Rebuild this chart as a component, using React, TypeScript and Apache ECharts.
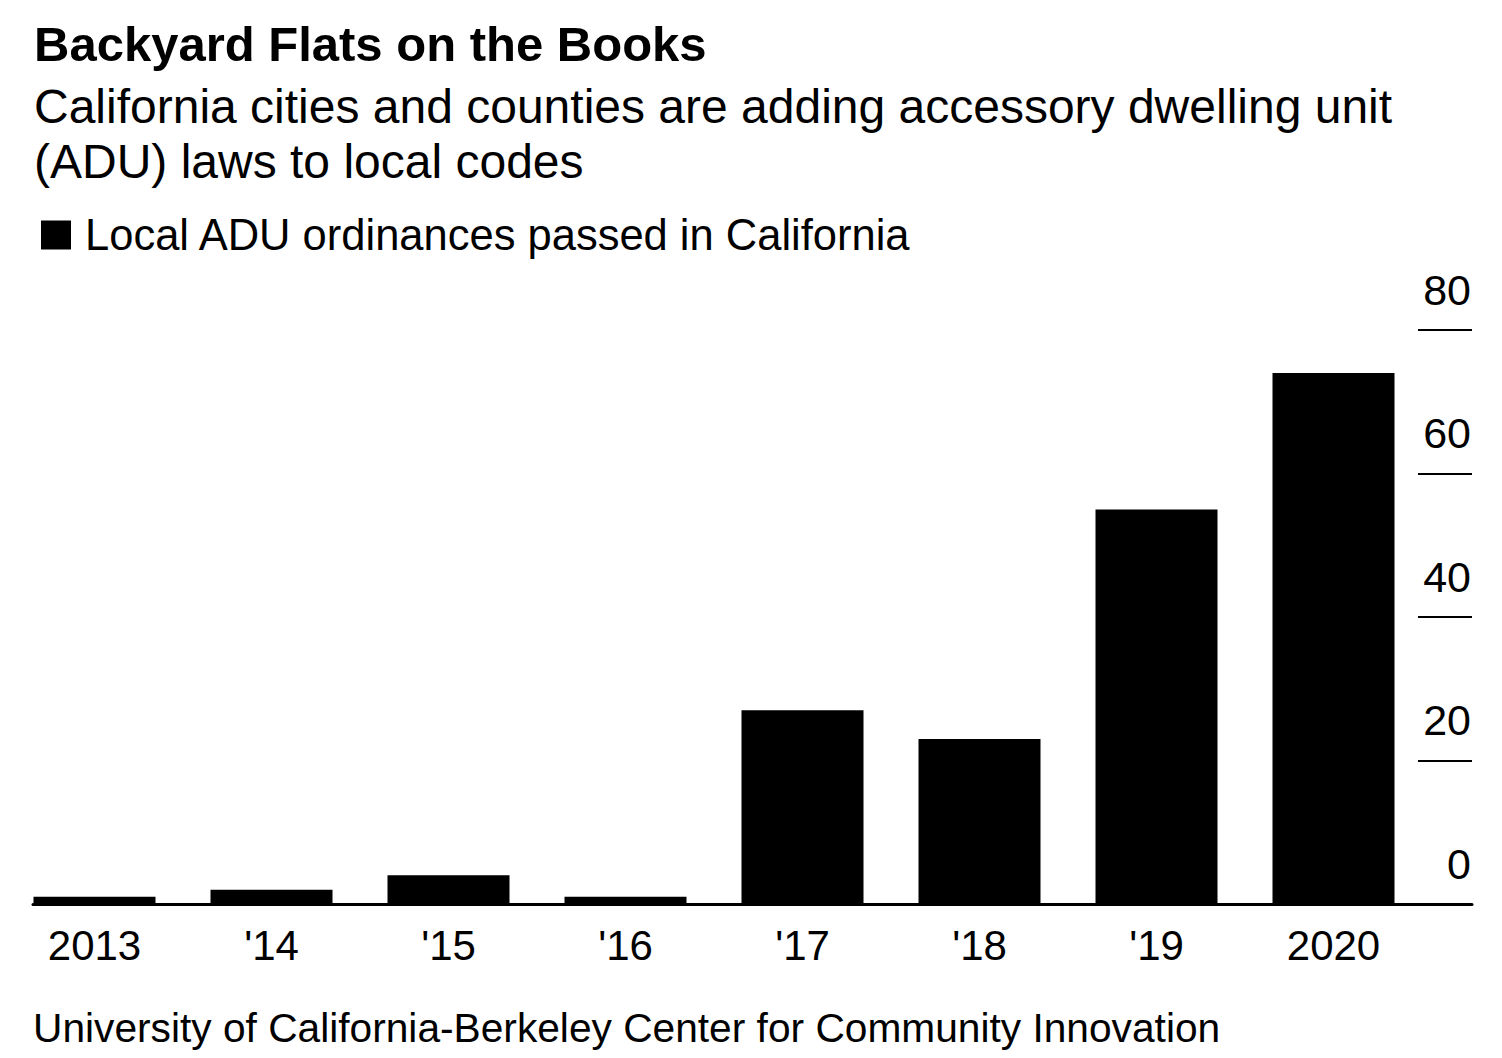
import React, { useEffect, useRef } from "react";
import * as echarts from "echarts";

const categories = ["2013", "'14", "'15", "'16", "'17", "'18", "'19", "2020"];
const ordinances = [1, 2, 4, 1, 27, 23, 55, 74];
const yTicks = { min: 0, max: 80, interval: 20 };

const titleText = "Backyard Flats on the Books";
const subtitleText =
  "California cities and counties are adding accessory dwelling unit\n(ADU) laws to local codes";
const seriesName = "Local ADU ordinances passed in California";
const sourceText = "University of California-Berkeley Center for Community Innovation";

const FONT = "'Liberation Sans', Arial, Helvetica, sans-serif";

export default function App() {
  const ref = useRef<HTMLDivElement>(null);
  useEffect(() => {
    if (!ref.current) return;
    const chart = echarts.init(ref.current, undefined, { renderer: "svg" });
    const plotTop = 330;
    const plotBottom = 154;
    chart.setOption({
      animation: false,
      backgroundColor: "#ffffff",
      textStyle: { fontFamily: FONT, color: "#000" },
      title: {
        text: titleText,
        subtext: subtitleText,
        left: 29,
        top: 11,
        itemGap: 7,
        textStyle: { fontFamily: FONT, fontSize: 49, fontWeight: "bold", color: "#000", lineHeight: 56 },
        subtextStyle: { fontFamily: FONT, fontSize: 48, color: "#000", lineHeight: 55 },
      },
      legend: {
        left: 36,
        top: 208,
        icon: "rect",
        itemWidth: 30,
        itemHeight: 29,
        selectedMode: false,
        textStyle: { fontFamily: FONT, fontSize: 43.5, color: "#000", padding: [0, 0, 0, 9] },
        data: [seriesName],
      },
      grid: [
        { left: 6, right: 80, top: plotTop, bottom: plotBottom, containLabel: false },
        { left: 1418, right: 30, top: plotTop, bottom: plotBottom, containLabel: false },
        { left: 33, right: 30, top: plotTop, bottom: plotBottom, containLabel: false },
      ],
      xAxis: [
        {
          type: "category",
          gridIndex: 0,
          data: categories,
          boundaryGap: true,
          axisLine: { show: false },
          axisTick: { show: false },
          axisLabel: { fontFamily: FONT, fontSize: 42, color: "#000", margin: 20 },
        },
        {
          type: "value",
          gridIndex: 1,
          min: 0,
          max: 1,
          show: false,
        },
        {
          type: "value",
          gridIndex: 2,
          min: 0,
          max: 1,
          axisLine: { show: true, onZero: false, lineStyle: { color: "#000", width: 3 } },
          axisTick: { show: false },
          axisLabel: { show: false },
          splitLine: { show: false },
        },
      ],
      yAxis: [
        {
          type: "value",
          gridIndex: 0,
          min: yTicks.min,
          max: yTicks.max,
          interval: yTicks.interval,
          show: false,
        },
        {
          type: "value",
          gridIndex: 1,
          position: "right",
          min: yTicks.min,
          max: yTicks.max,
          interval: yTicks.interval,
          axisLine: { show: false },
          axisTick: { show: false },
          splitLine: { show: true, lineStyle: { color: "#000", width: 2 } },
          axisLabel: {
            inside: true,
            margin: 1,
            fontFamily: FONT,
            fontSize: 43,
            color: "#000",
            verticalAlign: "bottom",
            lineHeight: 43,
            padding: [0, 0, 19, 0],
          },
        },
        {
          type: "value",
          gridIndex: 2,
          min: yTicks.min,
          max: yTicks.max,
          show: false,
        },
      ],
      series: [
        {
          name: seriesName,
          type: "bar",
          xAxisIndex: 0,
          yAxisIndex: 0,
          data: ordinances,
          barWidth: 122,
          itemStyle: { color: "#000" },
        },
      ],
      graphic: [
        {
          type: "text",
          left: 33,
          top: 1007,
          style: { text: sourceText, fontFamily: FONT, fontSize: 40.7, fill: "#000" },
        },
      ],
    });
    return () => chart.dispose();
  }, []);
  return (
    <div
      ref={ref}
      style={{ position: "fixed", left: 0, top: 0, width: 1502, height: 1058, background: "#fff" }}
    />
  );
}
